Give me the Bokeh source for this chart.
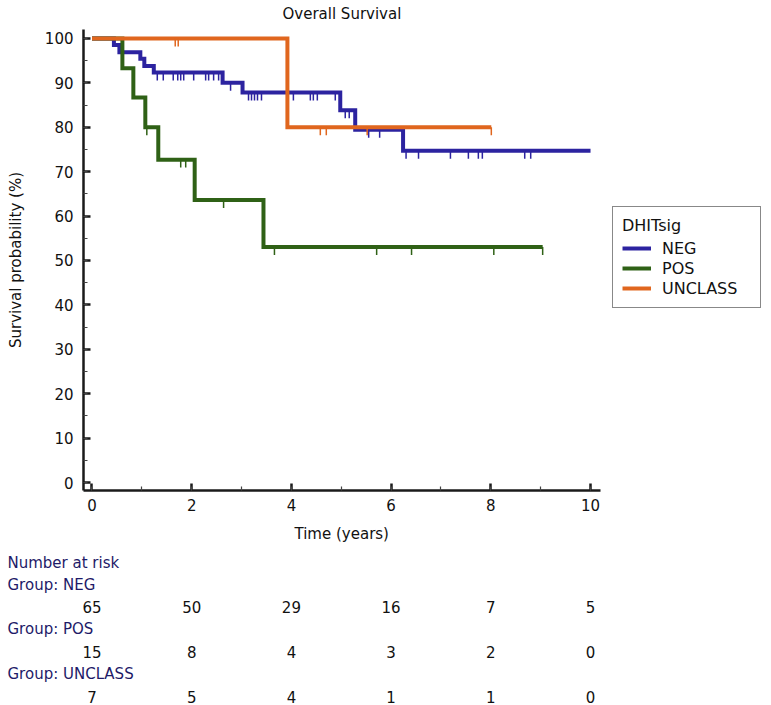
import numpy as np
from bokeh.plotting import figure
from bokeh.models import Range1d, SingleIntervalTicker, Legend, LegendItem, Title
from bokeh.layouts import column
from bokeh.embed import file_html
from bokeh.resources import INLINE
from bokeh.core.properties import value

# ---------------- data ----------------
groups = ["NEG", "POS", "UNCLASS"]

neg_step_times = [0.44, 0.55, 0.97, 1.05, 1.24, 2.62, 3.02, 4.98, 5.28, 6.24]
neg_step_surv = [98.5, 96.9, 95.4, 93.8, 92.3, 90.0, 87.8, 83.8, 79.4, 74.7]
neg_end = 10.0
neg_censor = [1.31, 1.43, 1.63, 1.72, 1.78, 1.84, 2.04, 2.28, 2.34, 2.44, 2.54,
              2.78, 3.14, 3.20, 3.26, 3.32, 3.40, 4.04, 4.38, 4.44, 4.52, 4.88,
              5.08, 5.16, 5.55, 5.77, 6.30, 6.55, 7.19, 7.55, 7.75, 7.83, 8.68, 8.80]

pos_step_times = [0.61, 0.83, 1.07, 1.33, 2.06, 3.44]
pos_step_surv = [93.3, 86.7, 80.0, 72.7, 63.6, 53.0]
pos_end = 9.04
pos_censor = [1.10, 1.78, 1.88, 2.64, 3.66, 5.71, 6.41, 8.06, 9.04]

unc_step_times = [3.92]
unc_step_surv = [80.0]
unc_end = 8.01
unc_censor = [1.67, 1.73, 4.58, 4.70, 5.52, 8.01]

risk_times = [0, 2, 4, 6, 8, 10]
risk_neg = [65, 50, 29, 16, 7, 5]
risk_pos = [15, 8, 4, 3, 2, 0]
risk_unc = [7, 5, 4, 1, 1, 0]

x_ticks_interval = 2
y_ticks_interval = 10

# ---------------- styling ----------------
colors = {"NEG": "#2c23a0", "POS": "#2f6116", "UNCLASS": "#e0661e"}
FONT = "DejaVu Sans"
FS = "15px"
NAVY = "#1e1a68"

W, H = 771, 552
L, R, T, B = 83, 3, 27, 62
AX0, AX1 = -0.17, 10.2          # extent of the x axis
PX_PER_X = 517 / (AX1 - AX0)     # axis spans 517 px
X0 = AX0
X1 = X0 + (W - L - R) / PX_PER_X  # frame extends right to hold the legend
Y0, Y1 = -1.8, 102.0

p = figure(width=W, height=H, x_range=Range1d(X0, X1), y_range=Range1d(Y0, Y1),
           toolbar_location=None, output_backend="svg", frame_align=False,
           min_border_left=L, min_border_right=R, min_border_top=T, min_border_bottom=B)
p.outline_line_color = None
p.grid.visible = False
p.background_fill_color = "white"

p.title.text = "Overall Survival"
p.title.align = "left"
p.title.offset = 199
p.title.vertical_align = "top"
p.title.text_font = FONT
p.title.text_font_size = FS
p.title.text_font_style = "normal"
p.title.text_color = "#111111"
p.title.standoff = 9

p.xaxis.ticker = SingleIntervalTicker(interval=x_ticks_interval, num_minor_ticks=2)
p.yaxis.ticker = SingleIntervalTicker(interval=y_ticks_interval, num_minor_ticks=2)
p.xaxis.bounds = (AX0, AX1)
for ax in (p.xaxis[0], p.yaxis[0]):
    ax.axis_line_width = 2.5
    ax.axis_line_color = "#1a1a1a"
    ax.major_tick_in = 7
    ax.major_tick_out = 0
    ax.minor_tick_in = 4
    ax.minor_tick_out = 0
    ax.major_tick_line_width = 2.5
    ax.major_tick_line_color = "#1a1a1a"
    ax.minor_tick_line_width = 1.2
    ax.minor_tick_line_color = "#444444"
    ax.major_label_text_font = FONT
    ax.major_label_text_font_size = FS
    ax.major_label_text_color = "#111111"
    ax.axis_label_text_font = FONT
    ax.axis_label_text_font_size = FS
    ax.axis_label_text_font_style = "normal"
    ax.axis_label_text_color = "#111111"
    ax.major_label_standoff = 8
p.yaxis.major_label_standoff = 10
p.yaxis.axis_label = "Survival probability (%)"
p.yaxis.axis_label_standoff = 17

# x axis title, centred under the axis extent (not under the wider frame)
xlab = Title(text="Time (years)", align="left", offset=211, standoff=18,
             text_font=FONT, text_font_size=FS, text_font_style="normal",
             text_color="#111111")
p.add_layout(xlab, "below")


def level_at(times, step_times, step_surv):
    idx = np.searchsorted(np.asarray(step_times), np.asarray(times), side="right") - 1
    surv = np.concatenate([[100.0], np.asarray(step_surv)])
    return surv[idx + 1]


series = {
    "NEG": (neg_step_times, neg_step_surv, neg_end, neg_censor),
    "POS": (pos_step_times, pos_step_surv, pos_end, pos_censor),
    "UNCLASS": (unc_step_times, unc_step_surv, unc_end, unc_censor),
}

TICK_DEPTH = 1.8  # censor tick length in % units
items = []
for g in groups:
    st, ss, end, cen = series[g]
    xs = [0.0] + list(st) + [end]
    ys = [100.0] + list(ss) + [ss[-1]]
    r = p.step(xs, ys, mode="after", line_color=colors[g], line_width=4,
               line_join="miter")
    cy = level_at(cen, st, ss)
    p.segment(x0=cen, y0=cy, x1=cen, y1=cy - TICK_DEPTH,
              line_color=colors[g], line_width=1.5)
    items.append(LegendItem(label=g, renderers=[r]))

lg = Legend(items=items, location=(529, 182 + (H - B - 490)))
lg.title = "DHITsig"
lg.title_text_font = FONT
lg.title_text_font_size = "16px"
lg.title_text_font_style = "normal"
lg.title_text_color = "#111111"
lg.title_standoff = 3
lg.label_text_font = FONT
lg.label_text_font_size = "16px"
lg.label_text_color = "#111111"
lg.label_width = 89
lg.label_height = 20
lg.glyph_width = 29
lg.glyph_height = 20
lg.label_standoff = 11
lg.spacing = 0
lg.padding = 9
lg.margin = 0
lg.border_line_color = "#111111"
lg.border_line_width = 1.5
lg.background_fill_alpha = 1.0
p.add_layout(lg, "center")

# ---------------- number-at-risk table ----------------
tx0 = X0 - L / PX_PER_X
tx1 = tx0 + W / PX_PER_X
TH = 705 - H
t = figure(width=W, height=TH, x_range=Range1d(tx0, tx1), y_range=Range1d(TH, 0),
           x_axis_type=None, y_axis_type=None, toolbar_location=None,
           output_backend="svg", min_border=0, frame_align=False)
t.outline_line_color = None
t.grid.visible = False

row_y = [10, 32, 54, 76, 99, 121, 144]
label_x = tx0 + 7 / PX_PER_X
head = ["Number at risk"] + ["Group: " + g for g in groups]
t.text(x=[label_x] * 4, y=[row_y[0], row_y[1], row_y[3], row_y[5]], text=head,
       text_align="left", text_baseline="middle", text_font=value(FONT),
       text_font_size=value(FS), text_color=NAVY)
for counts, ry in ((risk_neg, row_y[2]), (risk_pos, row_y[4]), (risk_unc, row_y[6])):
    t.text(x=risk_times, y=[ry] * len(risk_times), text=[str(c) for c in counts],
           text_align="center", text_baseline="middle", text_font=value(FONT),
           text_font_size=value(FS), text_color="#111111")

layout = column(p, t, spacing=0)
open("out.html", "w").write(file_html(layout, INLINE))
